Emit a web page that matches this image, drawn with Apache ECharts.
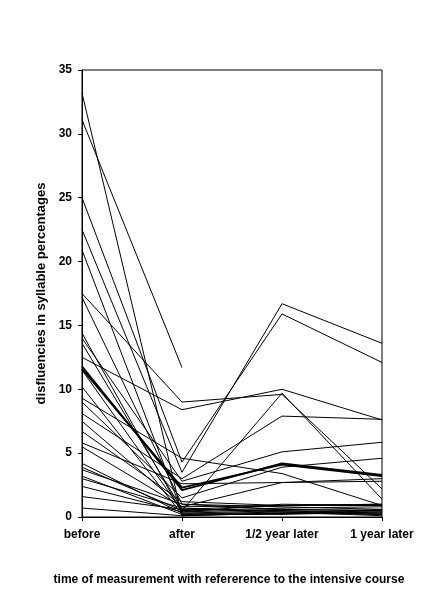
<!DOCTYPE html>
<html>
<head>
<meta charset="utf-8">
<script src="https://cdn.jsdelivr.net/npm/echarts@6/dist/echarts.min.js"></script>
<style>
html,body{margin:0;padding:0;background:#fff;}
#chart{width:442px;height:593px;}
</style>
</head>
<body>
<div id="chart"></div>
<script>
const categories = ['before', 'after', '1/2 year later', '1 year later'];
const yTicks = [0, 5, 10, 15, 20, 25, 30, 35];

// one value per participant at each time of measurement
const before   = [33.2, 31.1, 25.0, 22.5, 20.9, 17.5, 17.2, 14.4, 14.0, 13.6, 12.5, 11.8, 11.6, 11.5, 10.2, 9.3, 9.0, 8.1, 7.5, 6.7, 5.8, 5.5, 4.2, 3.9, 3.7, 3.2, 2.4, 1.6, 0.7, 3.0];
const after    = [0.1, 11.7, 4.3, 3.5, 0.4, 9.0, 1.0, 0.3, 2.8, 0.6, 8.4, 2.1, 2.3, 0.5, 0.2, 4.6, 1.5, 3.0, 0.8, 1.2, 2.6, 0.8, 0.3, 0.5, 1.0, 0.2, 0.4, 0.6, 0.1, 0.7];
const halfYear = [0.3, null, 15.9, 16.7, 0.6, 9.6, 0.8, 0.5, 5.1, 0.9, 10.0, 4.2, 4.1, 9.7, 0.4, 3.4, 3.9, 7.9, 2.7, 0.9, 2.7, 0.9, 0.3, 0.7, 0.6, 0.2, 1.0, 0.5, 0.3, 0.4];
const oneYear  = [0.2, null, 12.1, 13.6, 0.5, 2.2, 0.6, 0.4, 5.85, 0.9, 7.6, 3.3, 3.2, 1.4, 0.3, 0.9, 4.6, 7.65, 3.0, 1.0, 2.8, 1.0, 0.3, 0.8, 0.5, 0.4, 0.9, 0.2, 0.6, 0.1];

const thick = [11, 12];
const font = "'Liberation Sans', Arial, sans-serif";

const series = before.map((b, i) => ({
  type: 'line',
  data: [b, after[i], halfYear[i], oneYear[i]],
  symbol: 'none',
  silent: true,
  connectNulls: false,
  lineStyle: { color: '#000', width: thick.includes(i) ? 1.8 : 1 },
  z: 2
}));

const chart = echarts.init(document.getElementById('chart'), null, { renderer: 'canvas' });
chart.setOption({
  animation: false,
  backgroundColor: '#fff',
  grid: {
    left: 82, right: 60, top: 70, bottom: 76,
    show: true, borderColor: '#000', borderWidth: 1, backgroundColor: 'transparent'
  },
  title: {
    text: 'time of measurement with refererence to the intensive course',
    left: 224, top: 569, textAlign: 'center',
    textStyle: { fontFamily: font, fontWeight: 'bold', fontSize: 12, color: '#000' }
  },
  xAxis: {
    type: 'category',
    data: categories,
    boundaryGap: false,
    axisLine: { lineStyle: { color: '#000', width: 1 } },
    axisTick: { show: true, inside: false, length: 4, lineStyle: { color: '#000' } },
    axisLabel: { color: '#000', fontFamily: font, fontWeight: 'bold', fontSize: 12, margin: 12 },
    splitLine: { show: false }
  },
  yAxis: {
    type: 'value',
    min: 0, max: 35, interval: 5,
    name: 'disfluencies in syllable percentages',
    nameLocation: 'middle',
    nameGap: 34,
    nameTextStyle: { color: '#000', fontFamily: font, fontWeight: 'bold', fontSize: 13 },
    axisLine: { show: true, lineStyle: { color: '#000', width: 1 } },
    axisTick: { show: true, inside: false, length: 4, lineStyle: { color: '#000' } },
    axisLabel: {
      color: '#000', fontFamily: font, fontWeight: 'bold', fontSize: 12, margin: 10,
      formatter: v => yTicks.includes(v) ? String(v) : ''
    },
    splitLine: { show: false }
  },
  series: series
});
</script>
</body>
</html>
